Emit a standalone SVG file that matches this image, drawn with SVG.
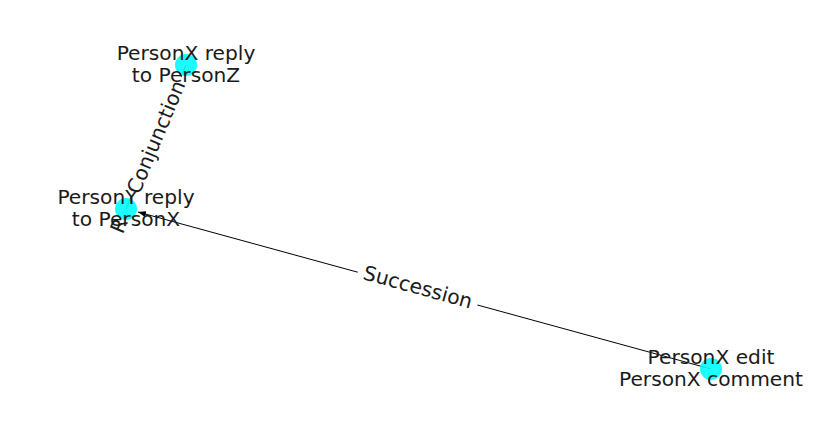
<svg xmlns="http://www.w3.org/2000/svg" width="837" height="434" viewBox="0 0 837 434">
<style>
text{font-family:"DejaVu Sans","Liberation Sans",sans-serif;font-size:20.2px;fill:#1a1a1a;text-anchor:middle;dominant-baseline:central}
.edge{stroke:#000;stroke-width:1;fill:none}
.node{fill:#00ffff;fill-opacity:0.9}
.lblbg{fill:#fff}
</style>
<defs>
<marker id="arr" markerWidth="8" markerHeight="6" refX="8" refY="3" orient="auto" markerUnits="userSpaceOnUse">
<path d="M0,0 L8,3 L0,6 Z" fill="#000"/>
</marker>
</defs>
<g id="connectors">
<line class="edge" x1="711" y1="369" x2="138" y2="212" marker-end="url(#arr)"/>
<line class="edge" x1="126" y1="209" x2="186" y2="65"/>
<g transform="translate(156,137) rotate(-67.4)">
<text x="-96" y="0">R</text>
<rect class="lblbg" x="-65" y="-12" width="130" height="24"/>
<text x="0" y="0">Conjunction</text>
</g>
<g transform="translate(418,287) rotate(15.3)">
<rect class="lblbg" x="-62" y="-12" width="124" height="24"/>
<text x="0" y="0">Succession</text>
</g>
</g>
<g id="node-personx-reply-personz">
<circle class="node" cx="186" cy="65" r="11"/>
<text x="186" y="53">PersonX reply</text>
<text x="186" y="75">to PersonZ</text>
</g>
<g id="node-persony-reply-personx">
<circle class="node" cx="126" cy="209" r="11"/>
<text x="126" y="197">PersonY reply</text>
<text x="126" y="219">to PersonX</text>
</g>
<g id="node-personx-edit-comment">
<circle class="node" cx="711" cy="369" r="11"/>
<text x="711" y="357">PersonX edit</text>
<text x="711" y="379">PersonX comment</text>
</g>
</svg>
